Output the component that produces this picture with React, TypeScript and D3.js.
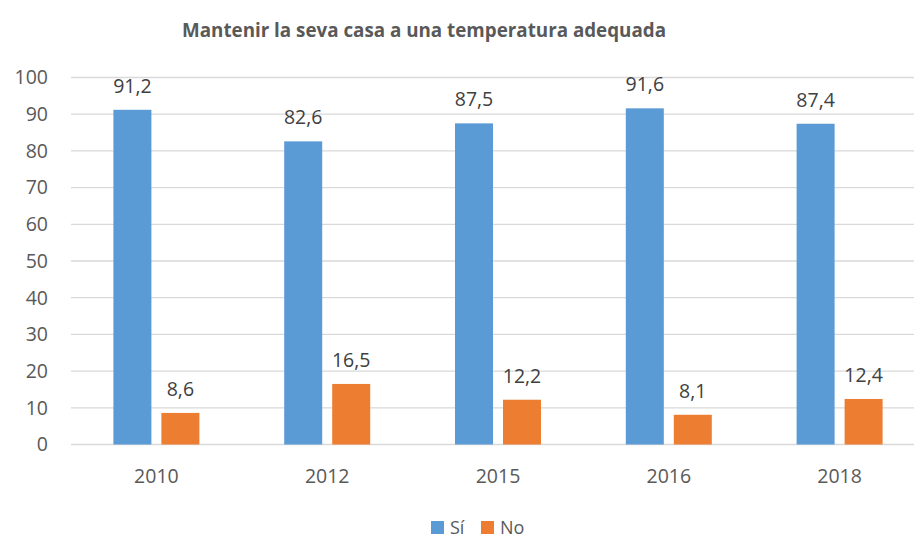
import React, { useEffect, useRef } from "react";
import * as d3 from "d3";

const categories = ["2010", "2012", "2015", "2016", "2018"];
const seriesNames = ["Sí", "No"];
const siValues = [91.2, 82.6, 87.5, 91.6, 87.4];
const noValues = [8.6, 16.5, 12.2, 8.1, 12.4];
const yTicks = [0, 10, 20, 30, 40, 50, 60, 70, 80, 90, 100];
const colors = ["#5B9BD5", "#ED7D31"];
const title = "Mantenir la seva casa a una temperatura adequada";

const W = 914;
const H = 538;
const FONT = "'Open Sans', 'Noto Sans', sans-serif";

export default function App() {
  const ref = useRef<SVGSVGElement>(null);

  useEffect(() => {
    const svg = d3.select(ref.current);
    svg.selectAll("*").remove();

    const left = 71;
    const right = 925;
    const top = 77.5;
    const bottom = 444.5;

    const x0 = d3.scaleBand<string>().domain(categories).range([left, right]).paddingInner(0).paddingOuter(0);
    const y = d3.scaleLinear().domain([0, 100]).range([bottom, top]);
    const barW = 38;
    const gap = 10;

    // gridlines
    svg.append("g")
      .selectAll("line")
      .data(yTicks)
      .join("line")
      .attr("x1", left)
      .attr("x2", right)
      .attr("y1", (d) => y(d))
      .attr("y2", (d) => y(d))
      .attr("stroke", "#D9D9D9")
      .attr("stroke-width", 1.3);

    // y tick labels
    svg.append("g")
      .selectAll("text")
      .data(yTicks)
      .join("text")
      .attr("x", 48)
      .attr("y", (d) => y(d))
      .attr("dy", "0.35em")
      .attr("text-anchor", "end")
      .attr("fill", "#595959")
      .attr("font-family", FONT)
      .attr("font-size", 19.5)
      .text((d) => String(d));

    const series = [siValues, noValues];
    series.forEach((vals, si) => {
      const g = svg.append("g");
      const xpos = (i: number) => {
        const c = x0(categories[i])! + x0.bandwidth() / 2;
        const groupW = barW * 2 + gap;
        return c - groupW / 2 + si * (barW + gap);
      };
      g.selectAll("rect")
        .data(vals)
        .join("rect")
        .attr("x", (_, i) => xpos(i))
        .attr("y", (d) => y(d))
        .attr("width", barW)
        .attr("height", (d) => y(0) - y(d))
        .attr("fill", colors[si]);
      g.selectAll("text")
        .data(vals)
        .join("text")
        .attr("x", (_, i) => xpos(i) + barW / 2)
        .attr("y", (d) => y(d) - 17)
        .attr("text-anchor", "middle")
        .attr("fill", "#404040")
        .attr("font-family", FONT)
        .attr("font-size", 19.5)
        .text((d) => d.toFixed(1).replace(".", ","));
    });

    // x labels
    svg.append("g")
      .selectAll("text")
      .data(categories)
      .join("text")
      .attr("x", (d) => x0(d)! + x0.bandwidth() / 2)
      .attr("y", 483)
      .attr("text-anchor", "middle")
      .attr("fill", "#595959")
      .attr("font-family", FONT)
      .attr("font-size", 19.5)
      .text((d) => d);

    // title
    svg.append("text")
      .attr("x", 424)
      .attr("y", 37)
      .attr("text-anchor", "middle")
      .attr("fill", "#595959")
      .attr("font-family", FONT)
      .attr("font-weight", "bold")
      .attr("font-size", 18.8)
      .text(title);

    // legend
    const legendX = [431, 481];
    const lg = svg.append("g");
    seriesNames.forEach((name, i) => {
      lg.append("rect")
        .attr("x", legendX[i])
        .attr("y", 521)
        .attr("width", 13)
        .attr("height", 13)
        .attr("fill", colors[i]);
      lg.append("text")
        .attr("x", legendX[i] + 19)
        .attr("y", 534)
        .attr("fill", "#595959")
        .attr("font-family", FONT)
        .attr("font-size", 18)
        .text(name);
    });
  }, []);

  return (
    <svg
      ref={ref}
      width={W}
      height={H}
      style={{ position: "absolute", left: 0, top: 0, background: "#fff" }}
    />
  );
}
